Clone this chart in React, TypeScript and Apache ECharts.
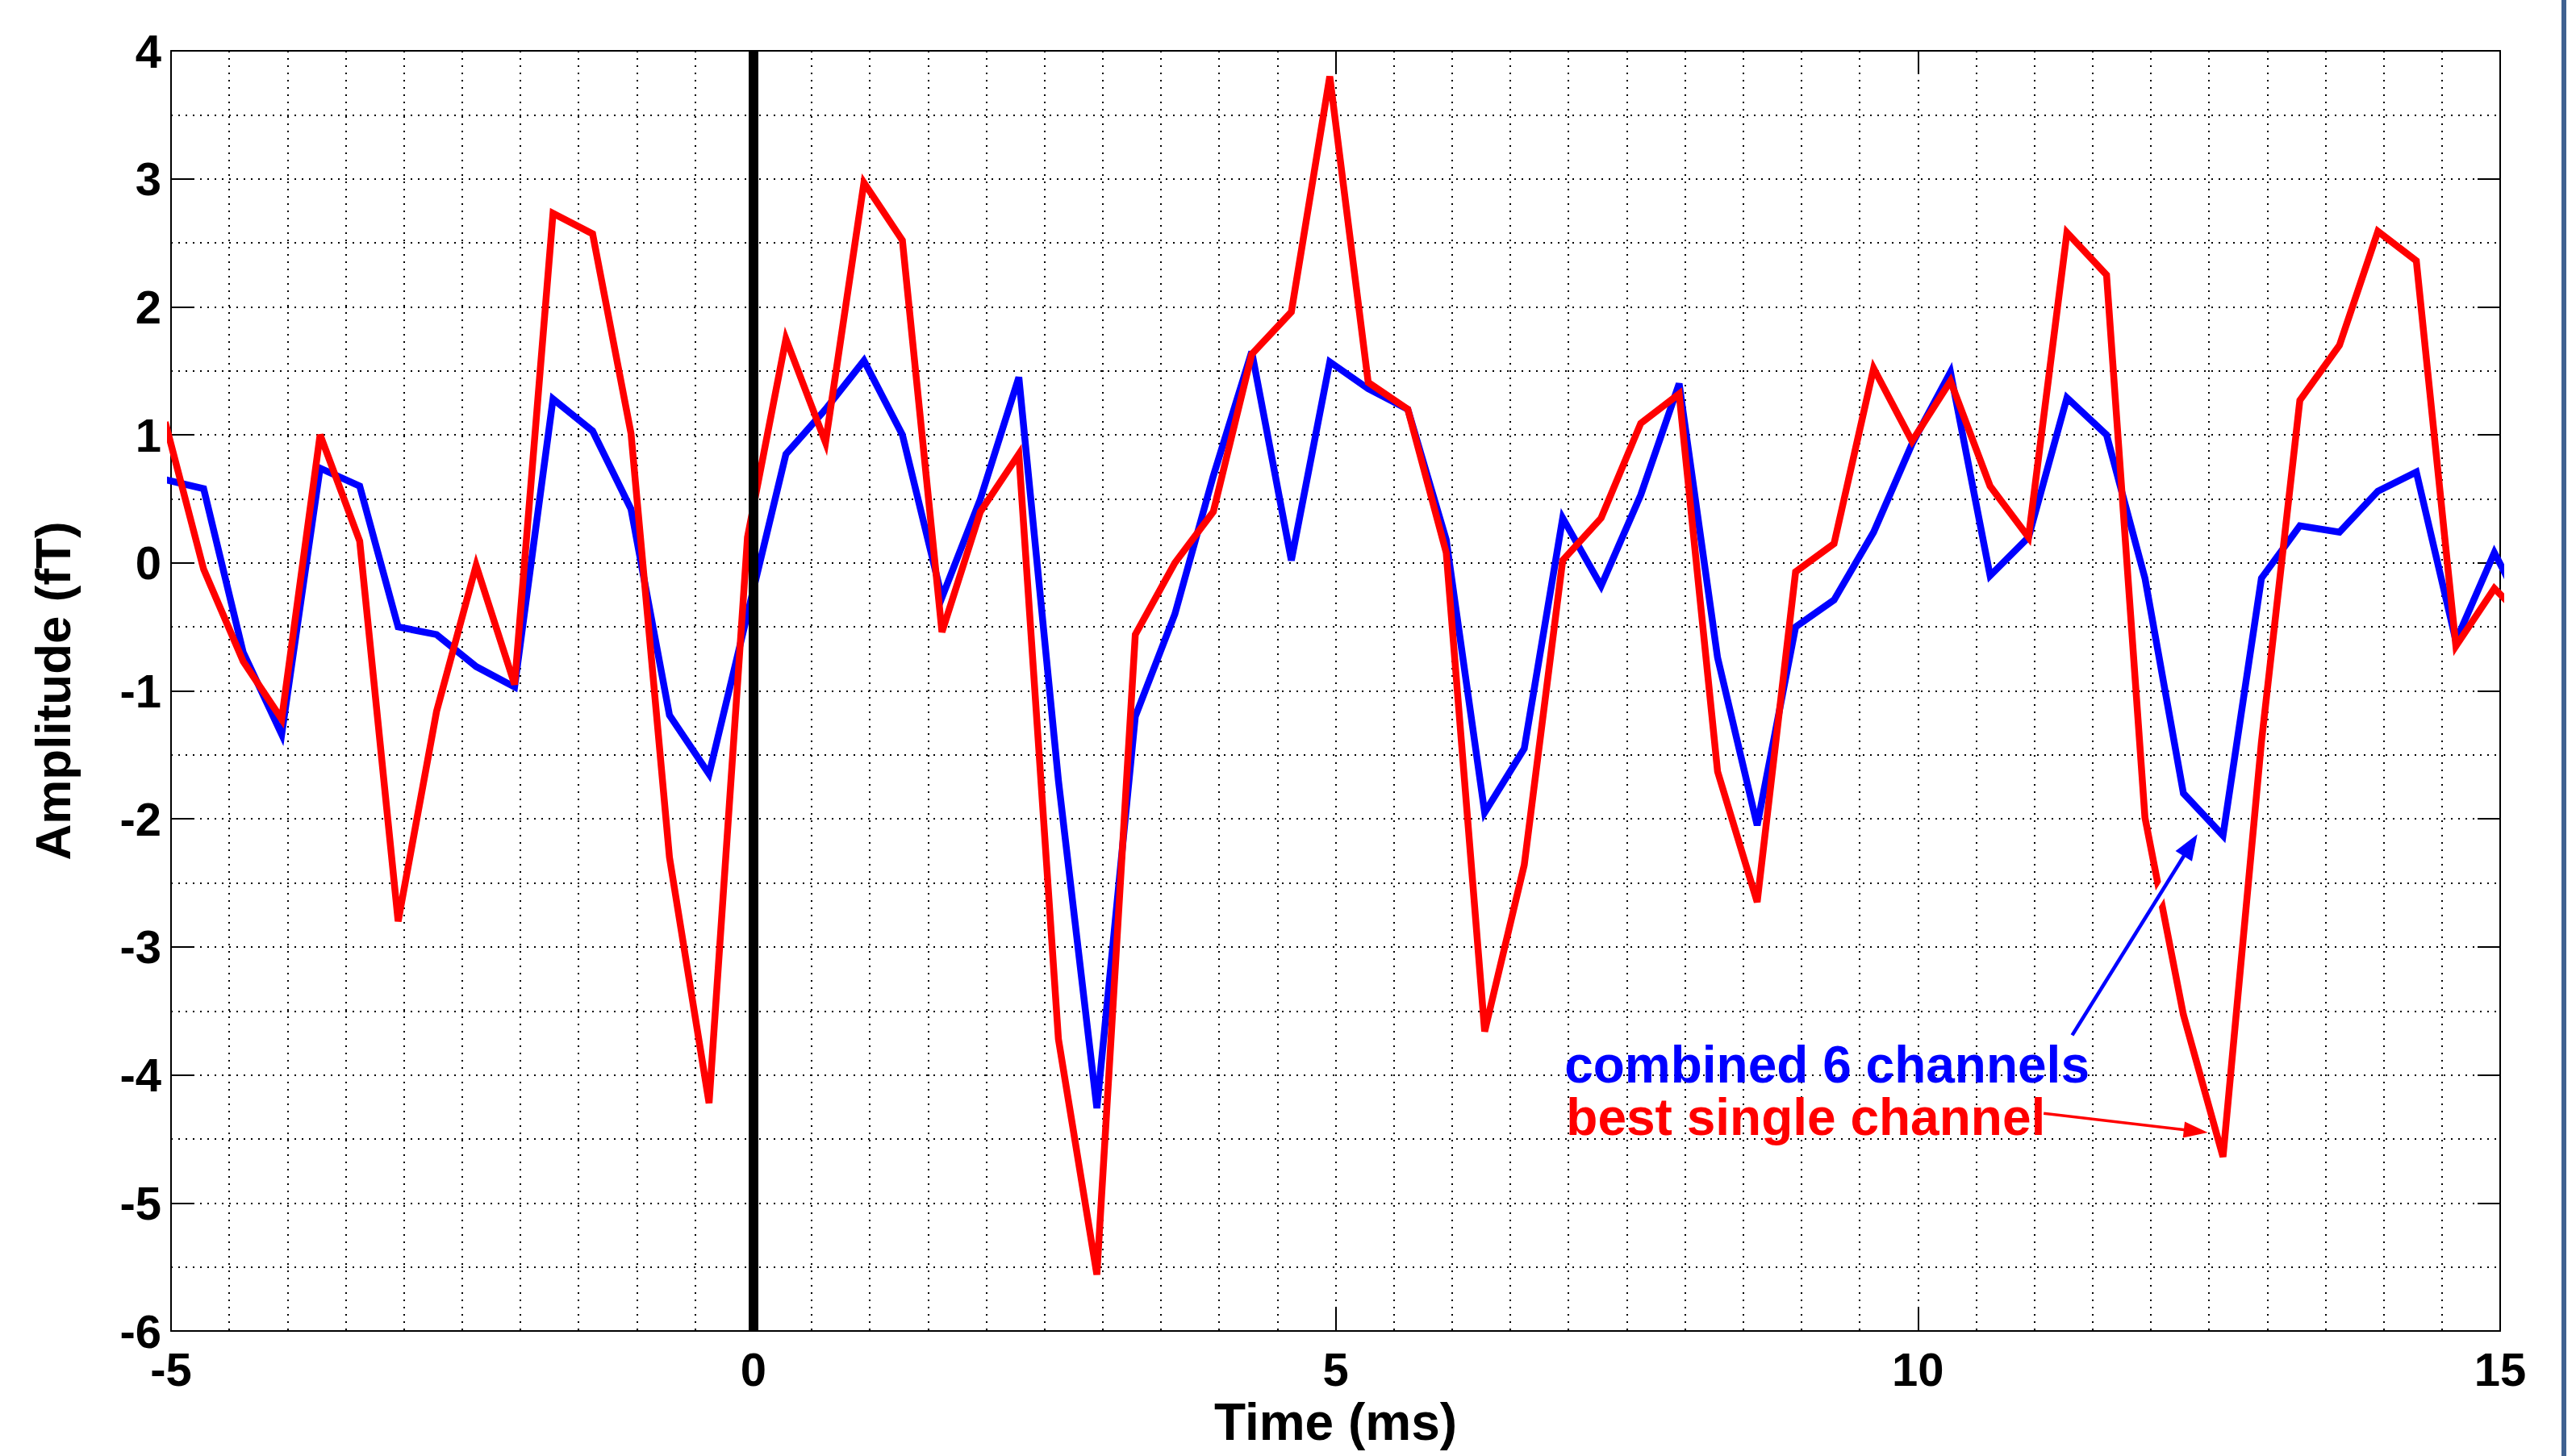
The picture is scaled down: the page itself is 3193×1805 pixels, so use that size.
import React, { useEffect, useRef } from "react";
import * as echarts from "echarts";

// Sample times (ms)
const timeMs = [
  -5.05, -4.72, -4.38, -4.05, -3.72, -3.38, -3.05, -2.72, -2.38, -2.05,
  -1.72, -1.38, -1.05, -0.72, -0.38, -0.05, 0.28, 0.62, 0.95, 1.28,
  1.62, 1.95, 2.28, 2.62, 2.95, 3.28, 3.62, 3.95, 4.28, 4.62,
  4.95, 5.28, 5.62, 5.95, 6.28, 6.62, 6.95, 7.28, 7.62, 7.95,
  8.28, 8.62, 8.95, 9.28, 9.62, 9.95, 10.28, 10.62, 10.95, 11.28,
  11.62, 11.95, 12.28, 12.62, 12.95, 13.28, 13.62, 13.95, 14.28, 14.62,
  14.95, 15.28,
];

// Combined 6 channels (fT)
const combined6 = [
  0.65, 0.58, -0.7, -1.34, 0.74, 0.6, -0.5, -0.56, -0.81, -0.97,
  1.28, 1.03, 0.42, -1.19, -1.65, -0.4, 0.85, 1.2, 1.58, 1.0,
  -0.27, 0.5, 1.45, -1.7, -4.26, -1.2, -0.4, 0.68, 1.65, 0.02,
  1.57, 1.36, 1.2, 0.18, -1.95, -1.45, 0.35, -0.18, 0.53, 1.4,
  -0.74, -2.05, -0.5, -0.29, 0.24, 0.93, 1.49, -0.1, 0.2, 1.29,
  1.0, -0.12, -1.8, -2.13, -0.12, 0.29, 0.24, 0.56, 0.71, -0.61,
  0.08, -0.5,
];

// Best single channel (fT)
const bestSingle = [
  1.1, -0.05, -0.77, -1.22, 1.0, 0.17, -2.8, -1.16, -0.02, -0.95,
  2.73, 2.57, 1.01, -2.3, -4.22, 0.2, 1.75, 0.94, 2.97, 2.52,
  -0.54, 0.4, 0.85, -3.72, -5.56, -0.56, 0.0, 0.4, 1.63, 1.96,
  3.8, 1.41, 1.2, 0.08, -3.66, -2.36, 0.02, 0.35, 1.09, 1.32,
  -1.63, -2.65, -0.07, 0.15, 1.52, 0.95, 1.42, 0.6, 0.2, 2.58,
  2.25, -1.99, -3.53, -4.64, -1.4, 1.27, 1.7, 2.59, 2.36, -0.65,
  -0.2, -0.5,
];

const xRange = { min: -5, max: 15, major: 5, minorSplits: 10 };
const yRange = { min: -6, max: 4, major: 1, minorSplits: 2 };
const stimulusTime = 0;

const labelTexts = ["combined 6 channels", "best single channel"];
const labelColors = ["#0000ff", "#ff0000"];
// annotation anchors in data coordinates (left, baseline)
const labelAnchors = [
  [6.965, -4.06],
  [6.98, -4.47],
];
// annotation arrows in data coordinates [from, to]
const arrowFrom = [
  [11.325, -3.69],
  [11.08, -4.3],
];
const arrowTo = [
  [12.4, -2.12],
  [12.49, -4.45],
];

const FONT = "'Liberation Sans', Arial, Helvetica, sans-serif";

export default function App() {
  const ref = useRef<HTMLDivElement>(null);

  useEffect(() => {
    document.body.style.margin = "0";
    if (!ref.current) return;
    const chart = echarts.init(ref.current, null, { renderer: "svg" });

    const gridStyle = { color: "#000", width: 2, type: [2, 7] as any };
    const tickStyle = { show: true, inside: true, length: 28, lineStyle: { color: "#000", width: 2 } };
    const axisLineStyle = { show: true, onZero: false, lineStyle: { color: "#000", width: 2 } };
    const labelBase = {
      color: "#000",
      fontFamily: FONT,
      fontWeight: "bold" as const,
      fontSize: 58,
    };

    const toPairs = (ys: number[]) => timeMs.map((t, i) => [t, ys[i]]);

    chart.setOption({
      animation: false,
      backgroundColor: "#fff",
      grid: { left: 212, right: 94, top: 63, bottom: 155, containLabel: false },
      xAxis: [
        {
          type: "value",
          position: "bottom",
          min: xRange.min,
          max: xRange.max,
          interval: xRange.major,
          name: "Time (ms)",
          nameLocation: "middle",
          nameGap: 80,
          nameTextStyle: { color: "#000", fontFamily: FONT, fontWeight: "bold", fontSize: 64 },
          axisLine: axisLineStyle,
          axisTick: tickStyle,
          axisLabel: { ...labelBase, margin: 18 },
          splitLine: { show: true, lineStyle: gridStyle },
          minorTick: { show: false, splitNumber: xRange.minorSplits },
          minorSplitLine: { show: true, lineStyle: gridStyle },
        },
        {
          type: "value",
          position: "top",
          min: xRange.min,
          max: xRange.max,
          interval: xRange.major,
          axisLine: axisLineStyle,
          axisTick: tickStyle,
          axisLabel: { show: false },
          splitLine: { show: false },
        },
      ],
      yAxis: [
        {
          type: "value",
          position: "left",
          min: yRange.min,
          max: yRange.max,
          interval: yRange.major,
          name: "Amplitude (fT)",
          nameLocation: "middle",
          nameGap: 116,
          nameTextStyle: { color: "#000", fontFamily: FONT, fontWeight: "bold", fontSize: 62 },
          axisLine: axisLineStyle,
          axisTick: tickStyle,
          axisLabel: { ...labelBase, margin: 12 },
          splitLine: { show: true, lineStyle: gridStyle },
          minorTick: { show: false, splitNumber: yRange.minorSplits },
          minorSplitLine: { show: true, lineStyle: gridStyle },
        },
        {
          type: "value",
          position: "right",
          min: yRange.min,
          max: yRange.max,
          interval: yRange.major,
          axisLine: axisLineStyle,
          axisTick: tickStyle,
          axisLabel: { show: false },
          splitLine: { show: false },
        },
      ],
      series: [
        {
          name: "combined 6 channels",
          type: "line",
          data: toPairs(combined6),
          showSymbol: false,
          symbol: "none",
          clip: true,
          z: 3,
          lineStyle: { color: "#0000ff", width: 8.5, join: "miter" },
        },
        {
          name: "best single channel",
          type: "line",
          data: toPairs(bestSingle),
          showSymbol: false,
          symbol: "none",
          clip: true,
          z: 4,
          lineStyle: { color: "#ff0000", width: 8.5, join: "miter" },
        },
        {
          name: "stimulus",
          type: "line",
          data: [],
          z: 6,
          markLine: {
            silent: true,
            symbol: ["none", "none"],
            label: { show: false },
            lineStyle: { color: "#000", width: 12, type: "solid" },
            data: [{ xAxis: stimulusTime }],
          },
        },
      ],
    });

    const px = (p: number[]) => chart.convertToPixel({ gridIndex: 0 }, p) as number[];
    const graphics: any[] = [];

    // right side decorative strip
    graphics.push({
      type: "rect",
      shape: { x: 3175, y: 0, width: 6, height: 1805 },
      style: { fill: "#3f6190" },
      z: 100,
    });

    const headSizes = [
      { len: 32, w: 24, lw: 4.5, halo: 14 },
      { len: 30, w: 20, lw: 3.5, halo: 0 },
    ];

    arrowFrom.forEach((from, i) => {
      const a = px(from);
      const b = px(arrowTo[i]);
      const dx = b[0] - a[0];
      const dy = b[1] - a[1];
      const L = Math.hypot(dx, dy);
      const ux = dx / L;
      const uy = dy / L;
      const nx = -uy;
      const ny = ux;
      const h = headSizes[i];
      const bx = b[0] - ux * h.len;
      const by = b[1] - uy * h.len;
      if (h.halo > 0) {
        graphics.push({
          type: "line",
          shape: { x1: a[0] + ux * 20, y1: a[1] + uy * 20, x2: b[0] - ux * 10, y2: b[1] - uy * 10 },
          style: { stroke: "#fff", lineWidth: h.halo },
          z: 90,
        });
      }
      graphics.push({
        type: "line",
        shape: { x1: a[0], y1: a[1], x2: bx + ux * 4, y2: by + uy * 4 },
        style: { stroke: labelColors[i], lineWidth: h.lw },
        z: 91,
      });
      graphics.push({
        type: "polygon",
        shape: {
          points: [
            [b[0], b[1]],
            [bx + nx * h.w / 2, by + ny * h.w / 2],
            [bx - nx * h.w / 2, by - ny * h.w / 2],
          ],
        },
        style: { fill: labelColors[i] },
        z: 91,
      });
    });

    const fs = 64;
    labelTexts.forEach((t, i) => {
      const p = px(labelAnchors[i]);
      graphics.push({
        type: "text",
        x: p[0],
        y: p[1] - 0.35 * fs,
        style: {
          text: t,
          fill: labelColors[i],
          font: `bold ${fs}px ${FONT}`,
          align: "left",
          verticalAlign: "middle",
        },
        z: 92,
      });
    });

    chart.setOption({ graphic: graphics });

    return () => chart.dispose();
  }, []);

  return <div ref={ref} style={{ width: 3193, height: 1805 }} />;
}
